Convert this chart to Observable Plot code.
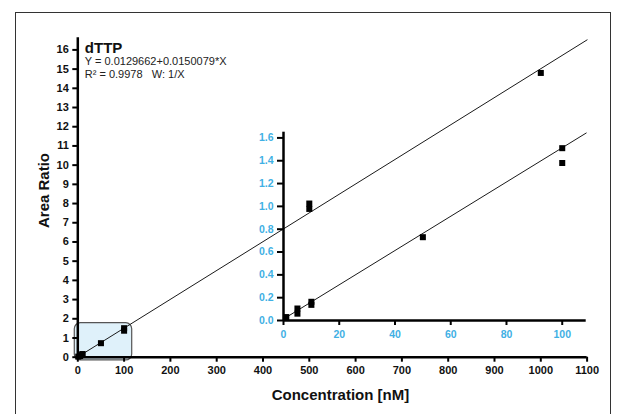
<!DOCTYPE html>
<html>
<head>
<meta charset="utf-8">
<script src="https://cdn.jsdelivr.net/npm/d3@7"></script>
<script src="https://cdn.jsdelivr.net/npm/@observablehq/plot@0.6"></script>
<style>
  html, body { margin: 0; padding: 0; background: #fff; }
  #wrap { position: relative; width: 619px; height: 414px; overflow: hidden; background: #fff;
          font-family: "Liberation Sans", Arial, sans-serif; }
  #wrap > svg, #wrap > figure { position: absolute; left: 0; top: 0; margin: 0; }
  #frame { position: absolute; left: 14.5px; top: 12px; width: 596px; height: 420px;
           border: 1px solid #333; box-sizing: border-box; }
</style>
</head>
<body>
<div id="wrap"><div id="frame"></div></div>
<script>
// ---- data ----
const concentration = [1, 5, 5, 10, 10, 50, 100, 100, 500, 500, 1000];   // nM
const areaRatio     = [0.03, 0.06, 0.105, 0.137, 0.164, 0.73, 1.38, 1.51, 7.72, 8.0, 14.8];
const fitIntercept = 0.0129662;
const fitSlope = 0.0150079;
const mainFitRange = [0, 1100];
const insetFitRange = [0, 108.6];
const mainXTicks = [0, 100, 200, 300, 400, 500, 600, 700, 800, 900, 1000, 1100];
const mainYTicks = [0, 1, 2, 3, 4, 5, 6, 7, 8, 9, 10, 11, 12, 13, 14, 15, 16];
const insetXTicks = [0, 20, 40, 60, 80, 100];
const insetYTicks = [0, 0.2, 0.4, 0.6, 0.8, 1.0, 1.2, 1.4, 1.6];
const zoomBoxX = [-6.5, 117.5];
const zoomBoxY = [-0.17, 1.77];
const titleText = ["dTTP"];
const equationText = ["Y = 0.0129662+0.0150079*X"];
const r2Text = ["R\u00B2 = 0.9978   W: 1/X"];
const xLabel = ["Concentration [nM]"];
const yLabel = ["Area Ratio"];

// ---- derived tables ----
const points = concentration.map((c, i) => ({x: c, y: areaRatio[i]}));
const fit = (range) => range.map(x => ({x, y: fitIntercept + fitSlope * x}));
const zoomBox = [{x1: zoomBoxX[0], x2: zoomBoxX[1], y1: zoomBoxY[0], y2: zoomBoxY[1]}];

const FONT = "Liberation Sans, Arial, Helvetica, sans-serif";
const BLUE = "#3fb0e4";

const mainXMax = 1100, mainYMax = 16.63;
const insetXMax = 108.6, insetYMax = 1.65;

const main = Plot.plot({
  width: 619, height: 414,
  marginLeft: 77.3, marginRight: 32.4, marginTop: 37.3, marginBottom: 57.3,
  x: {domain: [0, mainXMax]},
  y: {domain: [0, mainYMax]},
  style: {fontFamily: FONT, background: "transparent", overflow: "visible"},
  marks: [
    Plot.rect(zoomBox, {x1: "x1", x2: "x2", y1: "y1", y2: "y2", rx: 6, fill: "#dff1fa", stroke: "#555", strokeWidth: 1.2}),
    Plot.line(fit(mainFitRange), {x: "x", y: "y", stroke: "#1a1a1a", strokeWidth: 1}),
    Plot.dot(points, {x: "x", y: "y", symbol: "square", r: 3.4, fill: "#000", stroke: null}),
    Plot.axisX({ticks: mainXTicks, tickFormat: d => String(d), tickSize: 5, tickPadding: 4, strokeWidth: 2,
                fontSize: 11, fontWeight: "bold", fill: "#111", stroke: "#000", label: null}),
    Plot.axisY({ticks: mainYTicks, tickFormat: d => String(d), tickSize: 5, tickPadding: 4, strokeWidth: 2,
                fontSize: 11, fontWeight: "bold", fill: "#111", stroke: "#000", label: null}),
    Plot.ruleY([0], {stroke: "#000", strokeWidth: 2.5}),
    Plot.ruleX([0], {y1: 0, y2: mainYMax, stroke: "#000", strokeWidth: 2.5}),
    Plot.text(titleText, {text: d => d, frameAnchor: "top-left", textAnchor: "start", lineAnchor: "bottom",
                          dx: 7, dy: 15, fontSize: 15, fontWeight: "bold", fill: "#111"}),
    Plot.text(equationText, {text: d => d, frameAnchor: "top-left", textAnchor: "start", lineAnchor: "bottom",
                             dx: 7, dy: 27.2, fontSize: 11, fill: "#222"}),
    Plot.text(r2Text, {text: d => d, frameAnchor: "top-left", textAnchor: "start", lineAnchor: "bottom",
                       dx: 7, dy: 40, fontSize: 11, fill: "#222"}),
    Plot.text(xLabel, {text: d => d, frameAnchor: "bottom", textAnchor: "middle", lineAnchor: "bottom",
                       dx: 8, dy: 42.8, fontSize: 15, fontWeight: "bold", fill: "#111"}),
    Plot.text(yLabel, {text: d => d, frameAnchor: "left", textAnchor: "middle", lineAnchor: "middle",
                       rotate: -90, dx: -33.3, dy: -7, fontSize: 15, fontWeight: "bold", fill: "#111"})
  ]
});

const inset = Plot.plot({
  width: 619, height: 414,
  marginLeft: 283, marginRight: 33.3, marginTop: 131.7, marginBottom: 94,
  x: {domain: [0, insetXMax]},
  y: {domain: [0, insetYMax]},
  style: {fontFamily: FONT, background: "transparent", overflow: "visible"},
  marks: [
    Plot.line(fit(insetFitRange), {x: "x", y: "y", stroke: "#1a1a1a", strokeWidth: 1}),
    Plot.dot(points.filter(d => d.x <= insetXMax), {x: "x", y: "y", symbol: "square", r: 3.4, fill: "#000", stroke: null}),
    Plot.axisX({ticks: insetXTicks, tickFormat: d => String(d), tickSize: 5, tickPadding: 5, strokeWidth: 2,
                fontSize: 10.5, fontWeight: "bold", fill: BLUE, stroke: "#000", label: null}),
    Plot.axisY({ticks: insetYTicks, tickFormat: d3.format(".1f"), tickSize: 6, tickPadding: 4, strokeWidth: 2,
                fontSize: 10.5, fontWeight: "bold", fill: BLUE, stroke: "#000", label: null}),
    Plot.ruleY([0], {stroke: "#000", strokeWidth: 2.5}),
    Plot.ruleX([0], {y1: 0, y2: insetYMax, stroke: "#000", strokeWidth: 2.5})
  ]
});

const wrap = document.getElementById("wrap");
wrap.appendChild(main);
wrap.appendChild(inset);
</script>
</body>
</html>
